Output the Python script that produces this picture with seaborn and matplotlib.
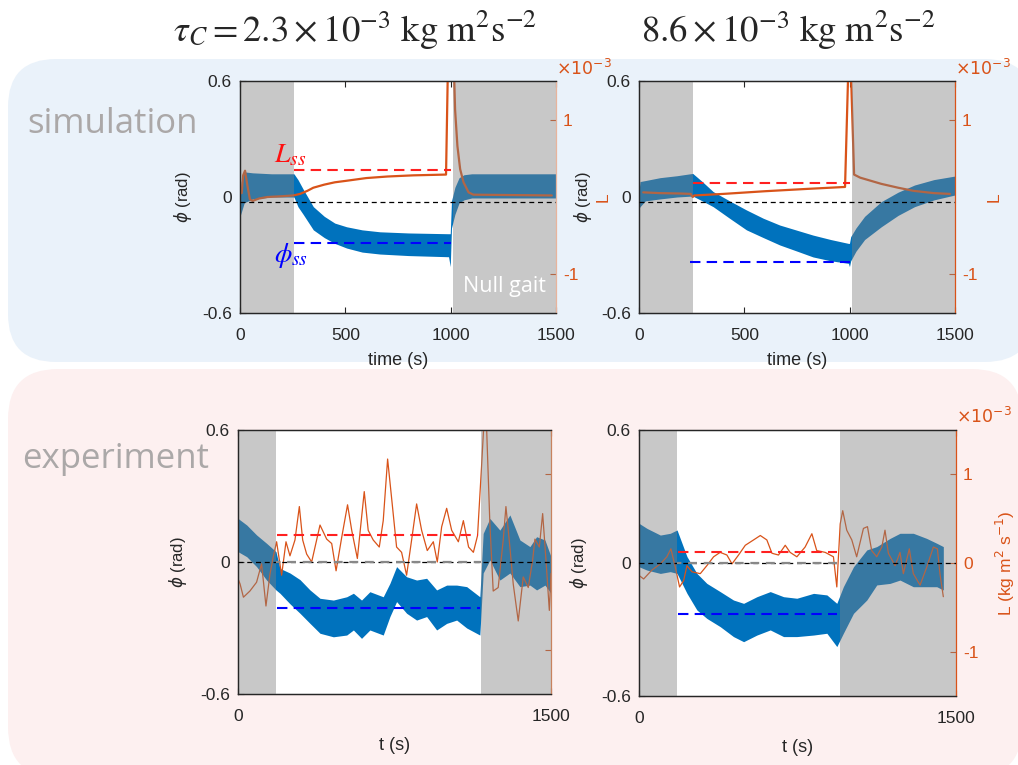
import numpy as np
import pandas as pd
import matplotlib
matplotlib.use("Agg")
import matplotlib.pyplot as plt
import seaborn as sns
from matplotlib.patches import FancyBboxPatch

# ---------------- data ----------------
# Panel A: simulation, tau_C = 2.3e-3
simA_band_t = [0, 6, 20, 60, 150, 256, 275, 300, 348, 400, 450, 506, 580, 664, 800, 990, 998, 1004, 1020, 1040, 1063, 1100, 1500]
simA_band_hi = [-0.03, 0.08, 0.13, 0.125, 0.12, 0.12, 0.09, 0.04, -0.05, -0.10, -0.135, -0.154, -0.17, -0.18, -0.186, -0.19, -0.19, -0.02, 0.05, 0.10, 0.115, 0.12, 0.12]
simA_band_lo = [-0.10, -0.08, -0.03, -0.01, 0.0, 0.0, -0.05, -0.09, -0.17, -0.21, -0.24, -0.264, -0.285, -0.295, -0.303, -0.309, -0.36, -0.16, -0.09, -0.03, -0.015, -0.005, -0.005]
simA_L_t = [8, 15, 24, 35, 47, 60, 90, 130, 200, 253, 285, 320, 348, 400, 450, 506, 600, 700, 823, 978, 987, 1015, 1021, 1032, 1045, 1061, 1085, 1108, 1480]
simA_L = [0.05, 0.28, 0.34, 0.15, -0.03, -0.05, -0.02, 0.0, 0.01, 0.02, 0.04, 0.08, 0.12, 0.16, 0.19, 0.21, 0.245, 0.265, 0.28, 0.29, 1.7, 1.7, 1.13, 0.66, 0.36, 0.19, 0.06, 0.03, 0.02]
simA_gray = [(0, 256), (1011, 1500)]
simA_Lss, simA_Lss_span = 0.35, (256, 1000)
simA_phiss, simA_phiss_span = -0.24, (256, 1000)

# Panel B: simulation, tau_C = 8.6e-3
simB_band_t = [0, 5, 30, 100, 180, 255, 300, 352, 430, 510, 590, 668, 750, 826, 910, 994, 999, 1005, 1030, 1071, 1150, 1230, 1308, 1400, 1498]
simB_band_hi = [0.03, 0.08, 0.085, 0.10, 0.11, 0.122, 0.08, 0.028, -0.02, -0.067, -0.11, -0.145, -0.172, -0.197, -0.22, -0.24, -0.24, -0.205, -0.16, -0.10, -0.024, 0.025, 0.062, 0.09, 0.108]
simB_band_lo = [-0.06, -0.05, -0.02, -0.01, 0.0, 0.005, -0.02, -0.05, -0.11, -0.17, -0.21, -0.248, -0.28, -0.31, -0.33, -0.343, -0.36, -0.33, -0.28, -0.22, -0.154, -0.095, -0.05, -0.015, 0.01]
simB_L_t = [20, 100, 200, 245, 255, 262, 400, 600, 800, 978, 994, 1005, 1021, 1050, 1150, 1230, 1302, 1400, 1476]
simB_L = [0.06, 0.05, 0.045, 0.04, 0.0, 0.02, 0.04, 0.075, 0.105, 0.13, 1.7, 1.7, 0.29, 0.25, 0.17, 0.12, 0.08, 0.05, 0.04]
simB_gray = [(0, 255), (1011, 1500)]
simB_Lss, simB_Lss_span = 0.175, (255, 1000)
simB_phiss, simB_phiss_span = -0.335, (243, 1000)

# Panel C: experiment, tau_C = 2.3e-3
expA_band_t = [0, 42, 89, 137, 182, 201, 249, 297, 345, 393, 457, 521, 553, 592, 632, 696, 728, 760, 808, 856, 904, 952, 1000, 1048, 1096, 1159, 1175, 1207, 1255, 1303, 1351, 1399, 1431, 1471, 1500]
expA_band_hi = [0.198, 0.168, 0.123, 0.085, 0.047, -0.029, -0.05, -0.08, -0.127, -0.165, -0.173, -0.158, -0.142, -0.173, -0.135, -0.158, -0.097, -0.021, -0.067, -0.082, -0.074, -0.127, -0.105, -0.105, -0.112, -0.158, 0.13, 0.198, 0.145, 0.214, 0.10, 0.07, 0.115, 0.10, 0.024]
expA_band_lo = [0.047, 0.024, -0.021, -0.082, -0.127, -0.142, -0.19, -0.233, -0.279, -0.324, -0.34, -0.332, -0.309, -0.347, -0.309, -0.332, -0.248, -0.18, -0.233, -0.264, -0.248, -0.309, -0.279, -0.264, -0.30, -0.332, -0.05, 0.009, -0.082, -0.05, -0.112, -0.105, -0.127, -0.105, -0.142]
expA_L_t = [0, 10, 26, 57, 89, 113, 134, 153, 169, 185, 209, 230, 249, 273, 294, 310, 329, 353, 393, 425, 449, 470, 497, 525, 545, 572, 605, 624, 648, 677, 696, 717, 739, 760, 784, 808, 832, 856, 880, 907, 936, 955, 976, 1000, 1024, 1056, 1080, 1105, 1128, 1148, 1167, 1179, 1191, 1207, 1223, 1247, 1271, 1284, 1303, 1319, 1343, 1367, 1391, 1412, 1423, 1444, 1460, 1476, 1492, 1500]
expA_L = [-0.19, -0.25, -0.40, -0.33, -0.23, -0.02, -0.50, -0.14, 0.06, 0.23, -0.15, 0.23, 0.07, 0.25, 0.63, 0.25, 0.09, 0.0, 0.42, 0.26, 0.21, -0.10, 0.28, 0.65, 0.36, 0.04, 0.80, 0.36, 0.25, 0.17, 0.47, 1.17, 0.66, 0.17, 0.11, -0.15, 0.25, 0.66, 0.36, 0.13, 0.23, 0.0, 0.40, 0.61, 0.36, 0.23, 0.47, 0.17, 0.11, 0.30, 1.08, 1.6, 1.55, 0.44, -0.33, -0.29, 0.25, 0.63, 0.17, -0.25, -0.67, -0.17, -0.29, 0.02, 0.26, 0.17, 0.55, 0.02, -0.55, -0.13]
expA_gray = [(0, 182), (1165, 1500)]
expA_Lss, expA_Lss_span = 0.31, (185, 1148)
expA_phiss, expA_phiss_span = -0.208, (185, 1160)

# Panel D: experiment, tau_C = 8.6e-3
expB_band_t = [0, 38, 101, 148, 180, 227, 274, 321, 384, 447, 495, 558, 621, 684, 747, 826, 889, 936, 967, 1015, 1078, 1125, 1188, 1235, 1298, 1361, 1409, 1440]
expB_band_hi = [0.179, 0.156, 0.126, 0.134, 0.149, 0.029, -0.047, -0.092, -0.129, -0.167, -0.182, -0.152, -0.129, -0.152, -0.159, -0.137, -0.144, -0.182, -0.107, -0.017, 0.059, 0.074, 0.111, 0.134, 0.134, 0.111, 0.089, 0.074]
expB_band_lo = [-0.017, -0.032, -0.047, -0.039, -0.047, -0.137, -0.212, -0.25, -0.287, -0.332, -0.355, -0.325, -0.302, -0.332, -0.332, -0.325, -0.317, -0.377, -0.317, -0.227, -0.167, -0.099, -0.092, -0.077, -0.107, -0.107, -0.107, -0.122]
expB_L_t = [0, 22, 61, 101, 132, 151, 172, 192, 211, 227, 251, 290, 321, 353, 384, 416, 440, 471, 503, 542, 574, 605, 629, 660, 692, 715, 747, 786, 818, 841, 881, 920, 936, 952, 964, 983, 1007, 1030, 1062, 1081, 1101, 1125, 1149, 1164, 1180, 1212, 1235, 1251, 1279, 1298, 1330, 1361, 1393, 1412, 1424, 1440]
expB_L = [-0.14, -0.18, -0.08, -0.01, 0.07, 0.16, -0.05, -0.27, -0.20, -0.03, -0.10, -0.12, -0.03, 0.07, 0.12, 0.09, -0.01, 0.09, 0.20, 0.26, 0.31, 0.26, 0.11, 0.09, 0.20, 0.12, 0.07, 0.18, 0.33, 0.14, 0.12, 0.07, -0.27, 0.44, 0.59, 0.37, 0.26, 0.07, 0.39, 0.41, 0.14, 0.07, 0.18, 0.37, 0.11, -0.03, 0.12, -0.12, 0.16, -0.12, -0.25, -0.05, 0.18, 0.16, -0.12, -0.38]
expB_gray = [(0, 178), (951, 1500)]
expB_Lss, expB_Lss_span = 0.12, (183, 936)
expB_phiss, expB_phiss_span = -0.23, (183, 936)

titles = [r"$\tau_C = 2.3 \times 10^{-3}\ \mathrm{kg\ m^2 s^{-2}}$",
          r"$8.6 \times 10^{-3}\ \mathrm{kg\ m^2 s^{-2}}$"]

# ---------------- style ----------------
sns.set_theme(style="ticks")
plt.rcParams['font.family'] = ['Liberation Sans', 'DejaVu Sans']
plt.rcParams['axes.unicode_minus'] = False
plt.rcParams['mathtext.fontset'] = 'dejavusans'

BLUE = '#0072BD'
ORANGE = '#D95319'
DARK = '#262626'

fig = plt.figure(figsize=(10.18, 7.65), dpi=100)
fig.patch.set_facecolor('white')

# rounded background panels (inches)
bg1 = FancyBboxPatch((0.08, 4.03), 10.25, 3.03, boxstyle="round,pad=0,rounding_size=0.48",
                     transform=fig.dpi_scale_trans, facecolor='#EAF2FA', edgecolor='none', zorder=-10)
bg2 = FancyBboxPatch((0.08, -0.12), 10.14, 4.08, boxstyle="round,pad=0,rounding_size=0.5",
                     transform=fig.dpi_scale_trans, facecolor='#FDF0F0', edgecolor='none', zorder=-10)
fig.add_artist(bg1)
fig.add_artist(bg2)

W, H = 1018, 765
def rect(x0, x1, y0, y1):
    return [x0 / W, (H - y1) / H, (x1 - x0) / W, (y1 - y0) / H]

panels = [
    dict(pos=rect(240, 556, 81, 313), t=simA_band_t, hi=simA_band_hi, lo=simA_band_lo,
         Lt=simA_L_t, L=simA_L, gray=simA_gray, Lss=simA_Lss, Lss_span=simA_Lss_span,
         phiss=simA_phiss, phiss_span=simA_phiss_span, sim=True, zero=-0.025,
         lw=1.6, rspine='#E8B49C', rlabel='L', rlabel_x=1.125, ylabel_x=-0.146, times=True),
    dict(pos=rect(639, 955, 81, 313), t=simB_band_t, hi=simB_band_hi, lo=simB_band_lo,
         Lt=simB_L_t, L=simB_L, gray=simB_gray, Lss=simB_Lss, Lss_span=simB_Lss_span,
         phiss=simB_phiss, phiss_span=simB_phiss_span, sim=True, zero=-0.025,
         lw=1.6, rspine=ORANGE, rlabel='L', rlabel_x=1.10, ylabel_x=-0.143, times=True),
    dict(pos=rect(238, 551, 430, 694), t=expA_band_t, hi=expA_band_hi, lo=expA_band_lo,
         Lt=expA_L_t, L=expA_L, gray=expA_gray, Lss=expA_Lss, Lss_span=expA_Lss_span,
         phiss=expA_phiss, phiss_span=expA_phiss_span, sim=False, zero=0.0,
         lw=0.9, rspine='#C8825E', rlabel=None, rlabel_x=None, ylabel_x=-0.157, times=False),
    dict(pos=rect(639, 956, 430, 696), t=expB_band_t, hi=expB_band_hi, lo=expB_band_lo,
         Lt=expB_L_t, L=expB_L, gray=expB_gray, Lss=expB_Lss, Lss_span=expB_Lss_span,
         phiss=expB_phiss, phiss_span=expB_phiss_span, sim=False, zero=0.0,
         lw=0.9, rspine=ORANGE, rlabel=r'L (kg m$^2$ s$^{-1}$)', rlabel_x=1.118, ylabel_x=-0.155, times=True),
]

axes = []
for i, p in enumerate(panels):
    ax = fig.add_axes(p['pos'])
    ax.set_facecolor('white')
    ax.set_xlim(0, 1500)
    ax.set_ylim(-0.6, 0.6)
    ax.fill_between(p['t'], p['lo'], p['hi'], color=BLUE, lw=0, zorder=2)

    axr = ax.twinx()
    axr.set_ylim(-1.5, 1.5)
    df = pd.DataFrame({'t': p['Lt'], 'L': p['L']})
    sns.lineplot(data=df, x='t', y='L', ax=axr, color=ORANGE, lw=p['lw'],
                 estimator=None, sort=False, zorder=1.2)
    for a, b in p['gray']:
        axr.axvspan(a, b, color='#808080', alpha=0.43, lw=0, zorder=1.5)

    # zero line
    axr.plot([0, 1500], [p['zero'], p['zero']], transform=ax.transData, color='black',
             lw=0.9, ls=(0, (4, 3)), zorder=3)
    if not p['sim']:
        axr.plot([p['gray'][0][1], p['gray'][1][0]], [0, 0], transform=ax.transData,
                 color='#888888', lw=1.6, ls=(2, (4, 3)), zorder=3.1)
    # steady-state lines
    axr.plot(p['Lss_span'], [p['Lss'], p['Lss']], color='#FF2020', lw=1.5,
             ls=(0, (5, 3)), zorder=3.2)
    axr.plot(p['phiss_span'], [p['phiss'], p['phiss']], transform=ax.transData,
             color='#0000FF', lw=1.5, ls=(0, (5, 3)), zorder=3.2)

    # axes styling
    if p['sim']:
        ax.set_xticks([0, 500, 1000, 1500])
        ax.set_xlabel('time (s)', fontsize=13, labelpad=6)
    else:
        ax.set_xticks([0, 1500])
        ax.set_xlabel('t (s)', fontsize=13, labelpad=9)
    ax.set_yticks([-0.6, 0, 0.6])
    ax.set_yticklabels(['-0.6', '0', '0.6'])
    ax.set_ylabel(r'$\phi$ (rad)', fontsize=12)
    ax.yaxis.set_label_coords(p['ylabel_x'], 0.5)
    ax.tick_params(axis='both', direction='in', length=4, width=0.8, labelsize=12.5,
                   colors=DARK, top=True, right=False, pad=6)
    ax.tick_params(axis='x', pad=11)
    for s in ['left', 'bottom', 'top']:
        ax.spines[s].set_color(DARK)
        ax.spines[s].set_linewidth(0.9)
    ax.spines['right'].set_visible(False)

    axr.set_xlabel('')
    if p['sim']:
        axr.set_yticks([-1, 1])
        axr.set_yticklabels(['-1', '1'])
    elif p['rlabel'] is None:
        axr.set_yticks([-1, 1])
        axr.set_yticklabels(['', ''])
    else:
        axr.set_yticks([-1, 0, 1])
        axr.set_yticklabels(['-1', '0', '1'])
    axr.tick_params(axis='y', direction='in', length=4, width=0.8, labelsize=12.5,
                    colors=ORANGE, left=False, right=True, pad=5)
    axr.tick_params(axis='x', bottom=False, top=False, labelbottom=False)
    for s in ['left', 'bottom', 'top']:
        axr.spines[s].set_color(DARK)
        axr.spines[s].set_linewidth(0.9)
    axr.spines['right'].set_color(p['rspine'])
    axr.spines['right'].set_linewidth(0.9)
    if p['rlabel']:
        axr.set_ylabel(p['rlabel'], color=ORANGE, fontsize=12.5)
        axr.yaxis.set_label_coords(p['rlabel_x'], 0.5)
    else:
        axr.set_ylabel('')
    if p['times']:
        axr.text(1.0, 1.015, r'$\times10^{-3}$', transform=axr.transAxes, ha='left', va='bottom',
                 color=ORANGE, fontsize=12.5)
    axes.append((ax, axr))

# annotations on first simulation panel
ax1, ax1r = axes[0]
ax1r.text(240, 0.215, r'$L_{ss}$', transform=ax1.transData, color='#FF1010', fontsize=20,
          ha='center', va='center', math_fontfamily='stix', zorder=5)
ax1r.text(240, -0.30, r'$\phi_{ss}$', transform=ax1.transData, color='#0000FF', fontsize=20,
          ha='center', va='center', math_fontfamily='stix', zorder=5)
ax1r.text(1253, -0.465, 'Null gait', transform=ax1.transData, color='white', fontsize=15.5,
          ha='center', va='center', family='Open Sans', zorder=5)

# column titles
fig.text(355 / W, 1 - 30 / H, titles[0], ha='center', va='center', fontsize=26.5, math_fontfamily='stix')
fig.text(788 / W, 1 - 30 / H, titles[1], ha='center', va='center', fontsize=26.5, math_fontfamily='stix')

# row labels
fig.text(27 / W, 1 - 133 / H, 'simulation', ha='left', va='baseline', fontsize=25,
         family='Open Sans', color='#ABA8A8')
fig.text(22 / W, 1 - 468 / H, 'experiment', ha='left', va='baseline', fontsize=25,
         family='Open Sans', color='#ABA8A8')

fig.savefig('out.png', dpi=100, facecolor='white')
